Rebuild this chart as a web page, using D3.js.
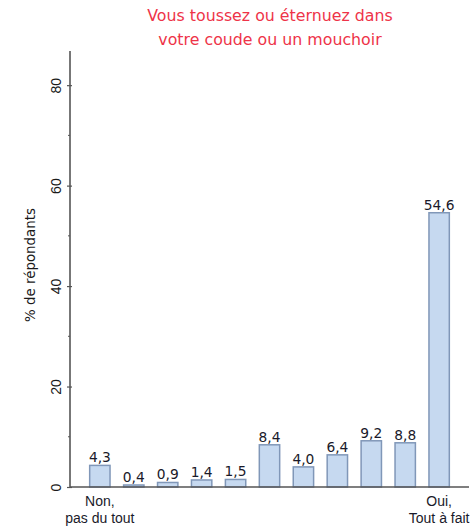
<!DOCTYPE html>
<html>
<head>
<meta charset="utf-8">
<script src="https://cdn.jsdelivr.net/npm/d3@7"></script>
<style>
  html, body { margin: 0; padding: 0; background: #ffffff; }
  svg { display: block; font-family: "DejaVu Sans", Verdana, sans-serif; }
</style>
</head>
<body>
<svg id="chart" width="474" height="531"></svg>
<script>
// Response scale positions, from "Non, pas du tout" to "Oui, Tout à fait"
const categories = ["1", "2", "3", "4", "5", "6", "7", "8", "9", "10", "11"];
const values = [4.3, 0.4, 0.9, 1.4, 1.5, 8.4, 4.0, 6.4, 9.2, 8.8, 54.6];
const endLabels = { "1": ["Non,", "pas du tout"], "11": ["Oui,", "Tout à fait"] };
const yTicks = [0, 20, 40, 60, 80];
const yMinorTicks = [10, 30, 50, 70];
const titleLines = ["Vous toussez ou éternuez dans", "votre coude ou un mouchoir"];
const yAxisTitle = "% de répondants";

const svg = d3.select("#chart");
const x0 = 70, x1 = 469, yBase = 487, yTop = 51;

const x = d3.scaleBand()
  .domain(categories)
  .range([x0, x1])
  .paddingInner(0.4)
  .paddingOuter(0.58);

const y = d3.scaleLinear()
  .domain([0, 86.8])
  .range([yBase, yTop]);

const fr = d3.formatLocale({ decimal: ",", thousands: " ", grouping: [3], currency: ["", " €"] });
const fmt = fr.format(".1f");

// Title
svg.append("text")
  .attr("x", 270)
  .attr("text-anchor", "middle")
  .attr("fill", "#ee3348")
  .attr("font-size", 15.8)
  .selectAll("tspan")
  .data(titleLines)
  .join("tspan")
  .attr("x", 270)
  .attr("y", (d, i) => 21 + i * 24)
  .text(d => d);

// Bars
svg.append("g")
  .selectAll("rect")
  .data(values)
  .join("rect")
  .attr("x", (d, i) => x(categories[i]))
  .attr("width", x.bandwidth())
  .attr("y", d => y(d))
  .attr("height", d => yBase - y(d))
  .attr("fill", "#c6d9f0")
  .attr("stroke", "#8097b8")
  .attr("stroke-width", 1.5);

// Value labels
svg.append("g")
  .selectAll("text")
  .data(values)
  .join("text")
  .attr("x", (d, i) => x(categories[i]) + x.bandwidth() / 2)
  .attr("y", d => y(d) - 3)
  .attr("text-anchor", "middle")
  .attr("font-size", 13.8)
  .attr("fill", "#1a1a2a")
  .text(d => fmt(d));

// Y axis
const yAxis = svg.append("g")
  .attr("transform", `translate(${x0},0)`)
  .call(d3.axisLeft(y).tickValues(yTicks).tickSize(3).tickPadding(6).tickFormat(d3.format("d")));
yAxis.select(".domain").remove();
yAxis.selectAll(".tick line").attr("x2", -3).attr("x1", 2).attr("stroke", "#555").attr("stroke-width", 1.2);
yAxis.selectAll(".tick text")
  .attr("font-size", 14)
  .attr("fill", "#1a1a1a")
  .attr("text-anchor", "middle")
  .attr("dy", 0)
  .attr("transform", "rotate(-90)")
  .attr("x", 0)
  .attr("y", -9);

// Minor ticks
svg.append("g")
  .selectAll("line")
  .data(yMinorTicks)
  .join("line")
  .attr("x1", x0 - 2)
  .attr("x2", x0)
  .attr("y1", d => y(d))
  .attr("y2", d => y(d))
  .attr("stroke", "#555")
  .attr("stroke-width", 1);

// Axis lines
svg.append("line")
  .attr("x1", x0).attr("x2", x0)
  .attr("y1", yTop).attr("y2", yBase)
  .attr("stroke", "#555").attr("stroke-width", 1.6);

// X axis with labels only at the two ends of the scale
const xAxis = svg.append("g")
  .attr("transform", `translate(0,${yBase})`)
  .call(d3.axisBottom(x).tickSize(0).tickFormat(""));
xAxis.select(".domain")
  .attr("d", `M${x0},0H${x1}`)
  .attr("stroke", "#555").attr("stroke-width", 1.6);
xAxis.selectAll(".tick text").remove();
xAxis.selectAll(".tick")
  .filter(d => endLabels[d])
  .append("text")
  .attr("text-anchor", "middle")
  .attr("font-size", 14)
  .attr("fill", "#1a1a2a")
  .selectAll("tspan")
  .data(d => endLabels[d])
  .join("tspan")
  .attr("x", 0)
  .attr("y", (d, i) => 19 + i * 17)
  .text(d => d);

// Y axis title
svg.append("text")
  .attr("transform", `translate(35,265) rotate(-90)`)
  .attr("text-anchor", "middle")
  .attr("font-size", 13.4)
  .attr("fill", "#1a1a1a")
  .text(yAxisTitle);
</script>
</body>
</html>
